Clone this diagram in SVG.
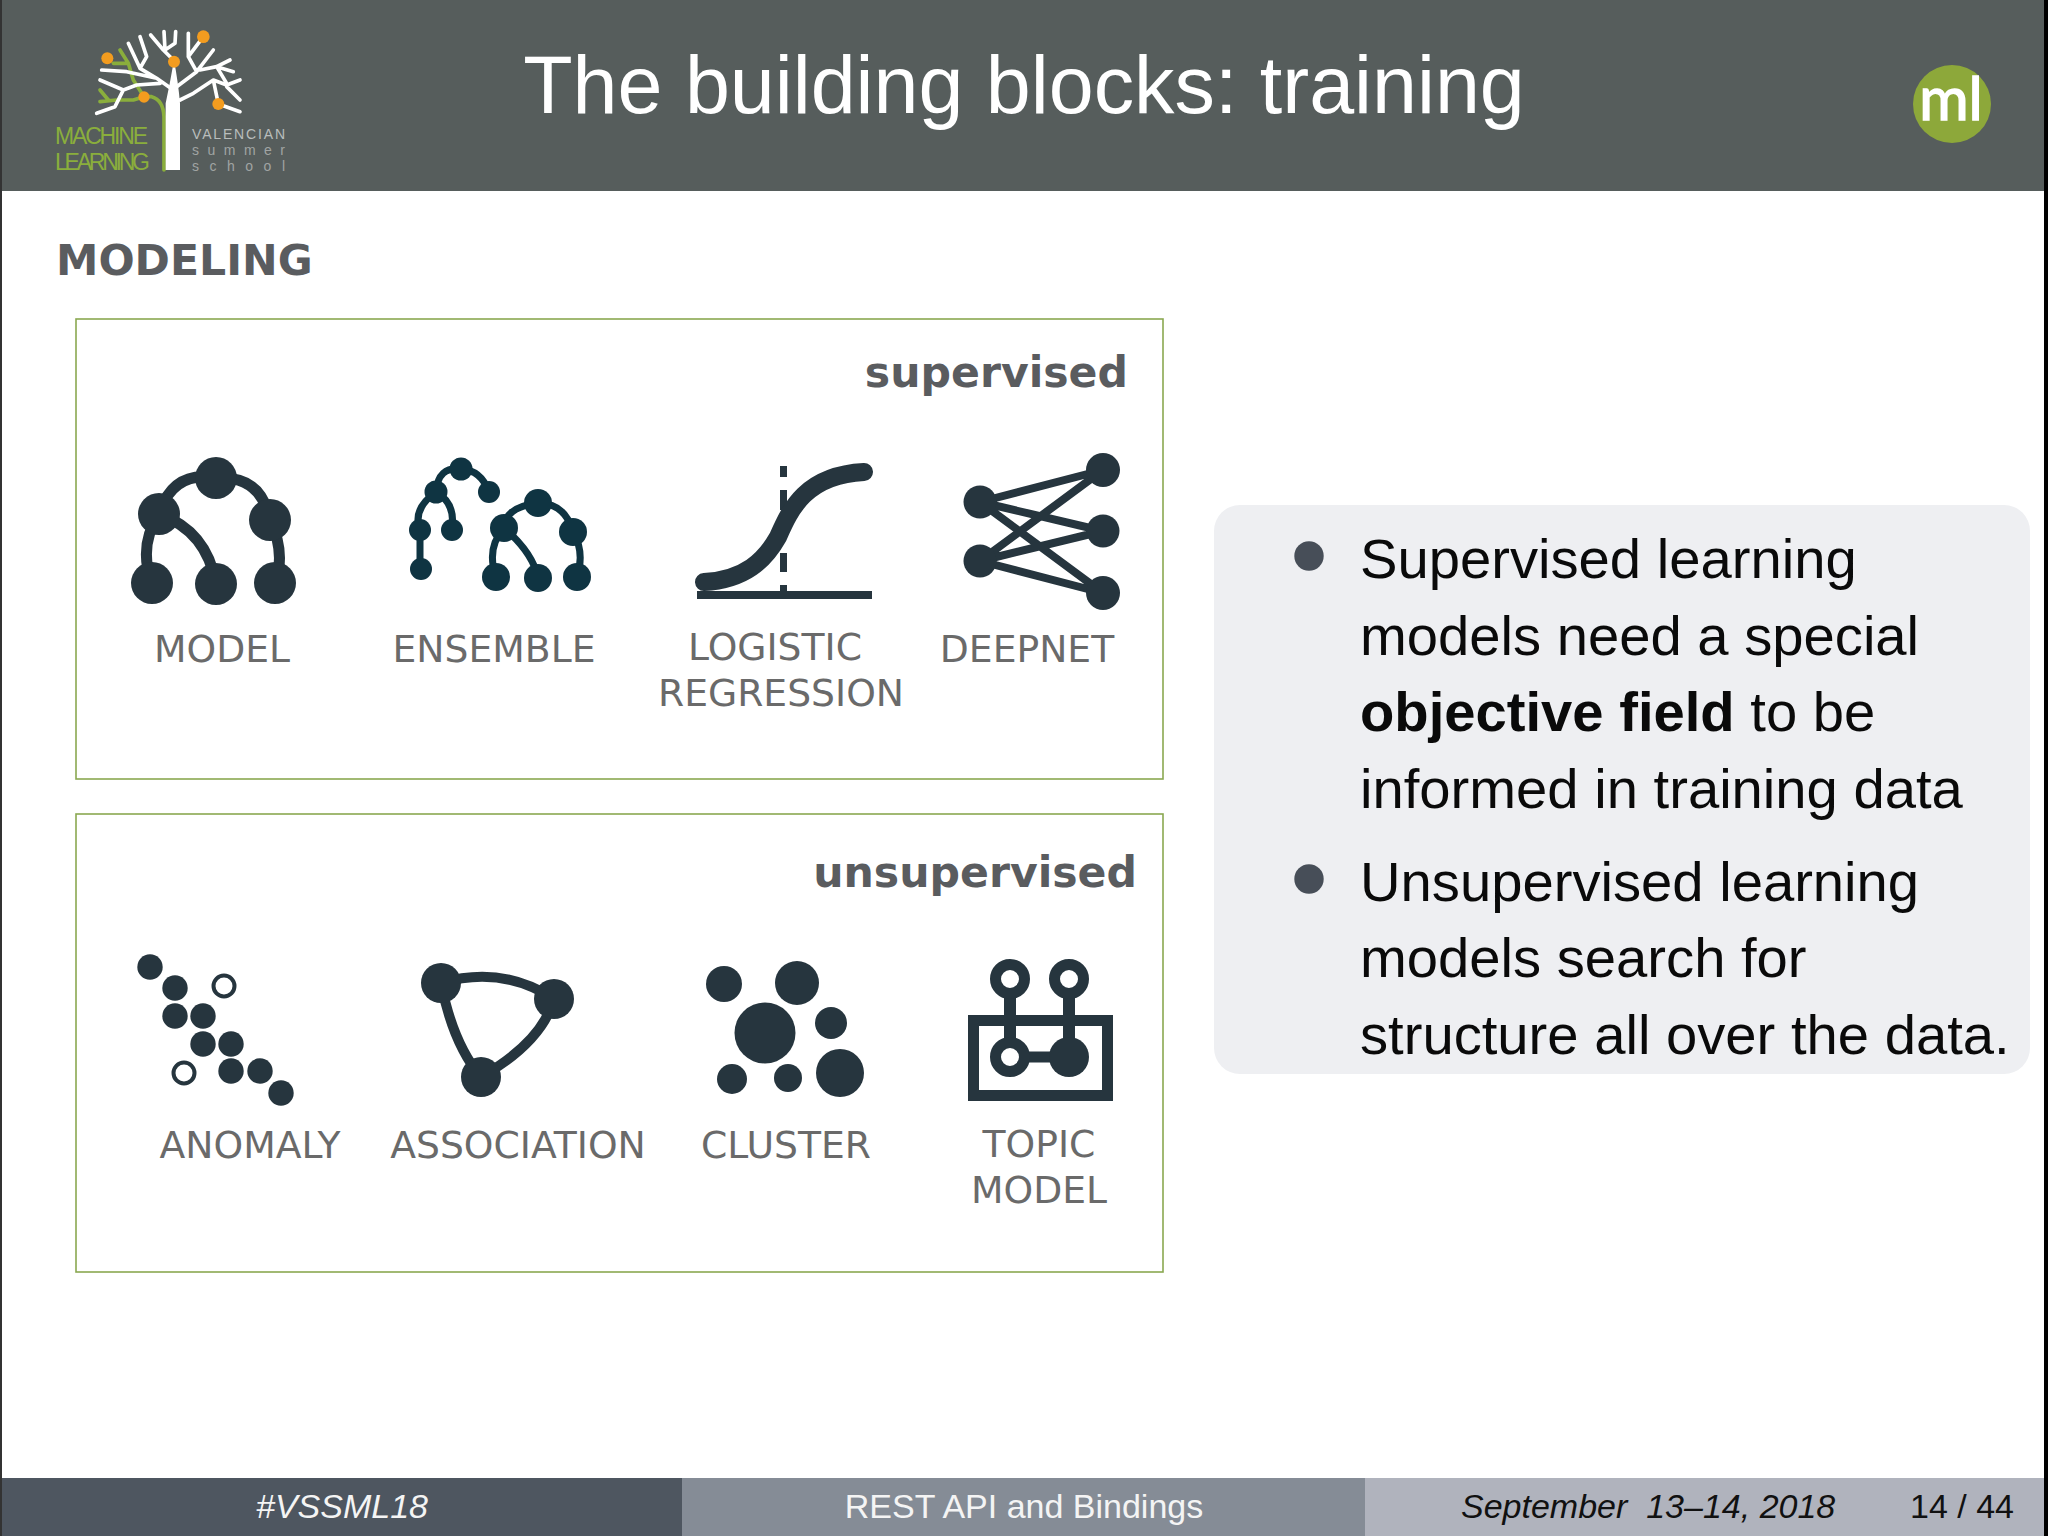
<svg xmlns="http://www.w3.org/2000/svg" width="2048" height="1536" viewBox="0 0 2048 1536">
<style>
.dj{font-family:"DejaVu Sans",sans-serif}
.ls{font-family:"Liberation Sans",Arial,sans-serif}
.lab{font-family:"DejaVu Sans",sans-serif;font-size:37.7px;fill:#6a6a6a;text-anchor:middle}
.hd{font-family:"DejaVu Sans",sans-serif;font-weight:bold;font-size:42.6px;fill:#5a5c5f}
.body{font-family:"Liberation Sans",Arial,sans-serif;font-size:56.2px;fill:#0a0a0a}
.frame{fill:#fff;stroke:#8aa851;stroke-width:1.6}
.ic{fill:#26353e}
.ln{fill:none;stroke:#26353e}
.ens{fill:none;stroke:#0f3442;stroke-width:7}
.wb{fill:none;stroke:#fff;stroke-width:11;stroke-linecap:round;stroke-linejoin:round}
.gb{fill:none;stroke:#8aae3c;stroke-width:11;stroke-linecap:round;stroke-linejoin:round}
.or{fill:#f39c1f}
.foot{font-family:"Liberation Sans",Arial,sans-serif;font-size:34px;fill:#f4f4f4}
</style>
<rect width="2048" height="1536" fill="#fff"/>
<g id="header">
<rect width="2048" height="191" fill="#565d5c"/>
<text class="ls" x="1024" y="113" font-size="80.8" fill="#fff" text-anchor="middle">The building blocks: training</text>
</g>
<g id="logo-vssml">
<g transform="scale(.33333)">
<path class="gb" d="M492 510V350Q490 300 455 290L432 290L400 300L350 300L300 305M300 270L325 300M432 290L400 240L385 190L360 150M385 190L340 190"/>
<path class="wb" d="M520 180L490 150L452 105M495 150L492 95M495 150L525 130L527 95M520 270L470 235L420 205L385 130M420 205L440 170L420 110M470 235L380 215L305 210M480 250L410 255L370 270L300 240M370 270L345 320L290 340M530 260L590 215L640 150M590 215L565 170L565 100M565 170L610 110M600 210L650 200L690 180M650 200L700 215M540 300L580 280L640 240L680 255L720 240M640 240L655 312L720 335M680 260L720 300M650 200L680 250"/>
<path fill="#fff" d="M497 510H540V310Q535 250 522 180Q510 250 497 310Z"/>
<g class="or"><circle cx="322" cy="175" r="18"/><circle cx="610" cy="110" r="19"/><circle cx="522" cy="185" r="18"/><circle cx="432" cy="291" r="17"/><circle cx="655" cy="312" r="18"/></g>
</g>
<text class="ls" x="55" y="144" font-size="23" fill="#8aae3c" textLength="93">MACHINE</text>
<text class="ls" x="55" y="170" font-size="23" fill="#8aae3c" textLength="95">LEARNING</text>
<text class="ls" x="192" y="139" font-size="14" fill="#b9bdbc" textLength="93">VALENCIAN</text>
<text class="ls" x="192" y="155" font-size="14" fill="#a0a4a3" textLength="93">summer</text>
<text class="ls" x="192" y="171" font-size="14" fill="#a0a4a3" textLength="93">school</text>
</g>
<g id="logo-ml">
<circle cx="1952" cy="104" r="39" fill="#8da83a"/>
<text font-family="Lato,sans-serif" x="1951" y="120" font-size="60" fill="#fff" stroke="#fff" stroke-width="1.5" text-anchor="middle">ml</text>
</g>
<text class="hd" x="56" y="275">MODELING</text>
<g id="supervised">
<rect class="frame" x="76" y="319" width="1087" height="460"/>
<text class="hd" x="1128" y="387" text-anchor="end">supervised</text>
</g>
<g id="unsupervised">
<rect class="frame" x="76" y="814" width="1087" height="458"/>
<text class="hd" x="1137" y="887" text-anchor="end">unsupervised</text>
</g>
<g id="model">
<path class="ln" stroke-width="11" d="M159 514Q173 470 216 478Q261 475 270 520Q286 553 275 583M159 514Q138 546 152 583M159 514Q207 531 216 584"/>
<g class="ic"><circle cx="216" cy="478" r="21"/><circle cx="159" cy="514" r="21"/><circle cx="270" cy="520" r="21"/><circle cx="152" cy="583" r="21"/><circle cx="216" cy="584" r="21"/><circle cx="275" cy="583" r="21"/></g>
<text class="lab" x="222" y="662">MODEL</text>
</g>
<g id="ensemble">
<path class="ens" d="M436 492Q438 466 461 469Q481 470 489 492M436 492Q412 509 420 530V569M436 492Q456 503 452 530M504 528Q505 507 538 503Q565 503 573 532Q585 552 577 577M504 528Q486 548 496 577M504 528Q533 553 538 578"/>
<g fill="#0f3442"><circle cx="461" cy="469" r="11.5"/><circle cx="436" cy="492" r="11.5"/><circle cx="489" cy="492" r="11"/><circle cx="420" cy="530" r="11"/><circle cx="452" cy="530" r="11"/><circle cx="421" cy="569" r="11"/><circle cx="538" cy="503" r="14"/><circle cx="504" cy="528" r="14"/><circle cx="573" cy="532" r="14"/><circle cx="496" cy="577" r="14"/><circle cx="538" cy="578" r="14"/><circle cx="577" cy="577" r="14"/></g>
<text class="lab" x="494" y="662">ENSEMBLE</text>
</g>
<g id="logistic">
<path class="ic" d="M780 466h7v11h-7zM780 490h7v20h-7zM780 553h7v19h-7zM780 585h7v8h-7zM697 591h175v8h-175z"/>
<path class="ln" stroke-width="18" stroke-linecap="round" d="M704 582C745 580 765 560 778 537C790 510 805 475 864 472"/>
<text class="lab" x="775" y="660">LOGISTIC</text>
<text class="lab" x="781" y="706">REGRESSION</text>
</g>
<g id="deepnet">
<path class="ln" stroke-width="8" d="M980 502L1103 470M980 502L1103 531M980 502L1103 593M980 561L1103 470M980 561L1103 531M980 561L1103 593"/>
<g class="ic"><circle cx="980" cy="502" r="16.5"/><circle cx="980" cy="561" r="16.5"/><circle cx="1103" cy="470" r="17"/><circle cx="1103" cy="531" r="16.5"/><circle cx="1103" cy="593" r="17"/></g>
<text class="lab" x="1027" y="662">DEEPNET</text>
</g>
<g id="anomaly">
<g class="ic"><circle cx="150" cy="967" r="12.7"/><circle cx="175" cy="988" r="12.7"/><circle cx="175" cy="1016" r="12.7"/><circle cx="203" cy="1016" r="12.7"/><circle cx="203" cy="1044" r="12.7"/><circle cx="231" cy="1044" r="12.7"/><circle cx="231" cy="1071" r="12.7"/><circle cx="260" cy="1071" r="12.7"/><circle cx="281" cy="1093" r="12.7"/></g>
<circle class="ln" stroke-width="4" cx="224" cy="986" r="10.5"/><circle class="ln" stroke-width="4" cx="184" cy="1073" r="10.5"/>
<text class="lab" x="250" y="1158">ANOMALY</text>
</g>
<g id="association">
<path class="ln" stroke-width="10" d="M441 983Q502 965 554 999Q542 1042 481 1077Q453 1044 441 983"/>
<g class="ic"><circle cx="441" cy="983" r="20"/><circle cx="554" cy="999" r="20"/><circle cx="481" cy="1077" r="20"/></g>
<text class="lab" x="518" y="1158">ASSOCIATION</text>
</g>
<g id="cluster">
<g class="ic"><circle cx="724" cy="984" r="18"/><circle cx="797" cy="983" r="22"/><circle cx="765" cy="1033" r="30.5"/><circle cx="831" cy="1023" r="16"/><circle cx="732" cy="1079" r="15"/><circle cx="788" cy="1078" r="14"/><circle cx="840" cy="1073" r="24"/></g>
<text class="lab" x="786" y="1158">CLUSTER</text>
</g>
<g id="topic">
<rect class="ln" stroke-width="11" x="973.5" y="1020.5" width="134" height="75"/>
<path class="ln" stroke-width="12" d="M1010 979V1057M1069 979V1057"/><path class="ln" stroke-width="11" d="M1010 1057H1069"/>
<circle class="ln" stroke-width="11" cx="1010" cy="979" r="14.5" style="fill:#fff"/><circle class="ln" stroke-width="11" cx="1069" cy="979" r="14.5" style="fill:#fff"/><circle class="ln" stroke-width="11" cx="1010" cy="1057" r="14.5" style="fill:#fff"/><circle class="ic" cx="1069" cy="1057" r="20"/>
<text class="lab" x="1039" y="1157">TOPIC</text>
<text class="lab" x="1039" y="1203">MODEL</text>
</g>
<g id="notes">
<rect x="1214" y="505" width="816" height="569" rx="26" fill="#eeeff2"/>
<circle cx="1309" cy="556" r="14.7" fill="#474e58"/><circle cx="1309" cy="879" r="14.7" fill="#474e58"/>
<text class="body" x="1360" y="578">Supervised learning</text>
<text class="body" x="1360" y="655">models need a special</text>
<text class="body" x="1360" y="731"><tspan font-weight="bold">objective field</tspan> to be</text>
<text class="body" x="1360" y="808">informed in training data</text>
<text class="body" x="1360" y="901">Unsupervised learning</text>
<text class="body" x="1360" y="977">models search for</text>
<text class="body" x="1360" y="1054">structure all over the data.</text>
</g>
<g id="footer">
<rect x="0" y="1478" width="682" height="58" fill="#4e5660"/>
<rect x="682" y="1478" width="683" height="58" fill="#858c96"/>
<rect x="1365" y="1478" width="683" height="58" fill="#b0b3bd"/>
<text class="foot" x="342" y="1518" text-anchor="middle" font-style="italic">#VSSML18</text>
<text class="foot" x="1024" y="1518" text-anchor="middle">REST API and Bindings</text>
<text class="foot" x="1461" y="1518" style="fill:#111" font-style="italic" xml:space="preserve" font-size="33.8">September  13–14, 2018</text>
<text class="foot" x="1910" y="1518" style="fill:#111">14 / 44</text>
</g>
<g id="edges">
<rect x="0" y="0" width="2" height="1536" fill="#333"/>
<rect x="2044" y="0" width="4" height="1536" fill="#000"/>
</g>
</svg>
